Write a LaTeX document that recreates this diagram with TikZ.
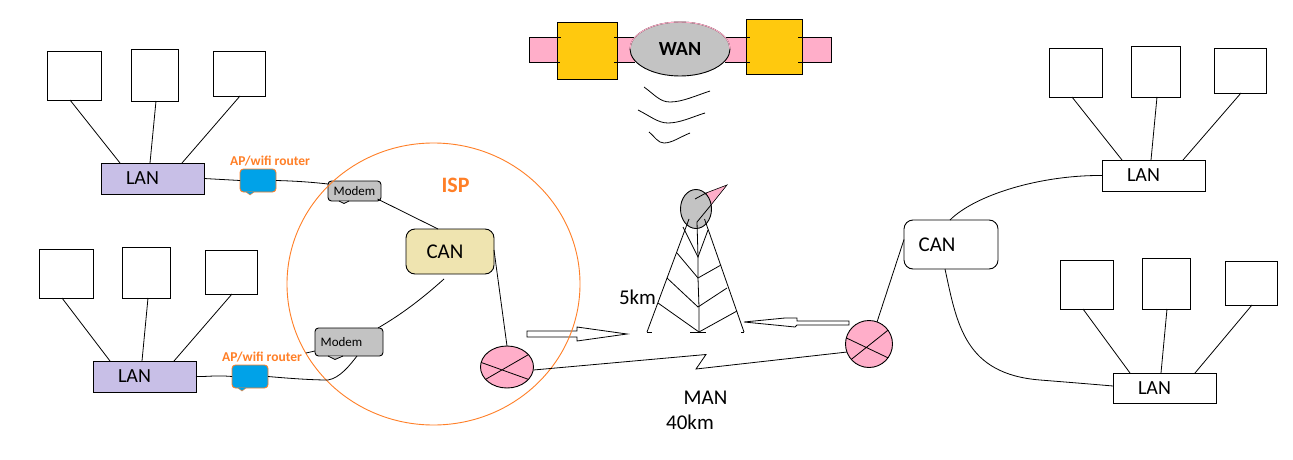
\documentclass[tikz,border=0pt]{standalone}
\usepackage{fontspec}
\setmainfont{Carlito}
\usetikzlibrary{shapes.geometric,calc}
\definecolor{lav}{HTML}{C8BFE7}
\definecolor{pinkf}{HTML}{FFAEC9}
\definecolor{yel}{HTML}{FFC90E}
\definecolor{gry}{HTML}{C3C3C3}
\definecolor{sand}{HTML}{EFE4B0}
\definecolor{orng}{HTML}{FF7F27}
\definecolor{sky}{HTML}{00A2E8}
\tikzset{
  base/.style={draw=black,line width=0.9pt,inner sep=0pt,outer sep=0pt,font=\fontsize{20}{20}\selectfont},
  plain/.style={base,fill=white},
  lanlav/.style={base,fill=lav},
  lanwhite/.style={base,fill=white},
  canbox/.style={base,rounded corners=9pt,font=\fontsize{21}{21}\selectfont},
  bubble/.style={base,fill=gry,rounded corners=3.5pt,font=\fontsize{13}{13}\selectfont},
  apbubble/.style={base,draw=orng,fill=sky,rounded corners=3.5pt},
  wire/.style={line width=0.8pt,black},
  aplabel/.style={inner sep=0pt,text=orng,font=\bfseries\fontsize{13.5}{13.5}\selectfont},
  lbl/.style={inner sep=0pt,font=\fontsize{21}{21}\selectfont},
  routerf/.style={base,ellipse,fill=pinkf},
}
% style, name, x1, y1, x2, y2, text
\newcommand{\bx}[7]{\node[#1,minimum width={(#5-#3)*1pt},minimum height={(#6-#4)*1pt}] (#2) at ({(#3+#5)/2},{(#4+#6)/2}) {#7};}
\newcommand{\lanshift}{\hspace*{-20pt}}
\begin{document}
\begin{tikzpicture}[x=1pt,y=-1pt]
\useasboundingbox (0,0) rectangle (1293,460);
\fill[white] (0,0) rectangle (1293,460);
% left groups
\bx{plain}{a1}{47}{51}{101}{100}{}
\bx{plain}{a2}{131}{49}{178}{101}{}
\bx{plain}{a3}{213}{51}{265}{96}{}
\bx{lanlav}{lanA}{101}{163}{204}{194}{\lanshift LAN}
\draw[wire] ([xshift=-4pt]a1.south) -- ([xshift=-32.5pt]lanA.north);
\draw[wire] ([xshift=1.5pt]a2.south) -- ([xshift=-2.5pt]lanA.north);
\draw[wire] ([xshift=1pt]a3.south) -- ([xshift=29.5pt]lanA.north);
\bx{plain}{b1}{39}{249}{93}{298}{}
\bx{plain}{b2}{122}{247}{170}{298}{}
\bx{plain}{b3}{205}{250}{257}{294}{}
\bx{lanlav}{lanB}{93}{361}{196}{392}{\lanshift LAN}
\draw[wire] ([xshift=-4pt]b1.south) -- ([xshift=-34.5pt]lanB.north);
\draw[wire] ([xshift=2pt]b2.south) -- ([xshift=-2.5pt]lanB.north);
\draw[wire] ([xshift=1pt]b3.south) -- ([xshift=29.5pt]lanB.north);
% right groups
\bx{plain}{c1}{1049}{48}{1102}{97}{}
\bx{plain}{c2}{1131}{46}{1180}{97}{}
\bx{plain}{c3}{1214}{48}{1266}{93}{}
\bx{lanwhite}{lanC}{1102}{160}{1205}{191}{\lanshift LAN}
\draw[wire] ([xshift=-3.5pt]c1.south) -- ([xshift=-31.5pt]lanC.north);
\draw[wire] ([xshift=1.5pt]c2.south) -- ([xshift=-2.5pt]lanC.north);
\draw[wire] ([xshift=1pt]c3.south) -- ([xshift=29.5pt]lanC.north);
\bx{plain}{d1}{1060}{260}{1113}{309}{}
\bx{plain}{d2}{1142}{258}{1190}{309}{}
\bx{plain}{d3}{1225}{261}{1277}{305}{}
\bx{lanwhite}{lanD}{1113}{373}{1216}{403}{\lanshift LAN}
\draw[wire] ([xshift=-3.5pt]d1.south) -- ([xshift=-34.5pt]lanD.north);
\draw[wire] ([xshift=1pt]d2.south) -- ([xshift=-3.5pt]lanD.north);
\draw[wire] ([xshift=1pt]d3.south) -- ([xshift=30.5pt]lanD.north);
% right CAN
\bx{canbox,fill=white}{canR}{904}{220}{998}{269}{\hspace*{-28pt}CAN}
\draw[wire] ([xshift=-1pt]canR.north) .. controls (975,195) and (1040,175) .. (lanC.west);
\draw[wire] ([xshift=-6pt]canR.south) .. controls (957,325) and (965,374) .. (1040,380) .. controls (1065,382) and (1090,384) .. ([yshift=2pt]lanD.west);
% routers
\node[routerf,minimum width=47pt,minimum height=47pt] (rtR) at (869,344) {};
\draw[wire] (rtR.165) -- (rtR.-36) (rtR.-139) -- (rtR.36);
\node[routerf,minimum width=53pt,minimum height=42pt] (rtL) at (507,367) {};
\draw[wire] (rtL.170) -- (rtL.-30) (rtL.-150) -- (rtL.30);
\draw[wire] (canR.west) ++(0,-5) -- (rtR.70);
% block arrows
\coordinate (arrA) at (527,331);
\coordinate (arrB) at (849,321);
\draw[wire,fill=white] (arrA) -- (577,331) -- (577,327) -- (627,334) -- (577,341) -- (577,337) -- (527,337) -- cycle;
\draw[wire,fill=white] (arrB) -- (797,321) -- (797,318) -- (785,318) -- (744,322) -- (785,326) -- (795,327) -- (797,325) -- (849,325) -- cycle;
% modem A lies under the ISP circle
\bx{bubble}{modA}{328}{181}{381}{201}{Modem}
\draw[wire,fill=gry] (339,201) -- (344,203.5) -- (349,201);
% ISP circle
\node[draw=orng,line width=0.9pt,ellipse,minimum width=293pt,minimum height=282pt,inner sep=0pt] (isp) at (433.5,284) {};
\node[inner sep=0pt,text=orng,font=\bfseries\fontsize{22}{22}\selectfont] (ispt) at (455.5,185) {ISP};
% bubbles
\bx{bubble}{modB}{315}{328}{383}{356}{\hspace*{-15pt}Modem}
\draw[wire,fill=gry] (328,356) -- (335,359.5) -- (343,356);
\bx{apbubble}{apA}{240}{169}{276}{192}{}
\filldraw[orng,fill=sky] (246,192) -- (250,195) -- (254,192);
\bx{apbubble}{apB}{232}{365}{268}{388}{}
\filldraw[orng,fill=sky] (238,388) -- (242,391) -- (246,388);
\node[aplabel] (apAt) at (270,161) {AP/wifi router};
\node[aplabel] (apBt) at (262,357) {AP/wifi router};
% CAN left
\bx{canbox,fill=sand}{canL}{406}{229}{494}{274}{\hspace*{-10pt}CAN}
% wires left
\draw[wire] (lanA.east) -- (apA.west);
\draw[wire] (apA.east) .. controls (295,181) and (310,182) .. ([yshift=7pt]modA.west);
\draw[wire] ([xshift=23pt,yshift=-8pt]modA.center) -- ([xshift=-12pt]canL.north);
\draw[wire] ([xshift=-6pt]canL.south) ++(0,5) .. controls (415,305) and (395,318) .. ([xshift=-5pt]modB.north east);
\draw[wire] (lanB.east) .. controls (205,377) and (215,375) .. (apB.west);
\draw[wire] (apB.east) .. controls (285,378) and (310,380) .. (328,380) .. controls (340,378) and (350,365) .. ([xshift=8pt]modB.south);
\coordinate (modTick) at (306,353);
\draw[wire] (modTick) -- ([yshift=-9pt]modB.west);
\draw[wire] ([yshift=1.5pt]canL.east) -- (rtL.north);
% MAN link
\coordinate (manA) at (706,354.5);
\coordinate (manB) at (696,369);
\draw[wire] (rtL.east) ++(0,3) -- (manA) -- (manB) -- (rtR.-160);
% WAN
\fill[pinkf] (529,37) rectangle (831,62);
\coordinate (wl) at (529,37);
\draw[wire] (557,37) -- (529,37) -- (529,62) -- (557,62);
\draw[wire] (617,37) -- (635,37) (617,62) -- (635,62);
\draw[wire] (725,37) -- (746,37) (725,62) -- (746,62);
\draw[wire] (802,37) -- (831,37) -- (831,62) -- (802,62);
\bx{base,fill=yel}{yA}{557}{22}{617}{79}{}
\bx{base,fill=yel}{yB}{746}{19}{802}{74}{}
\draw[wire] (557,37) -- (561,37) (557,62) -- (560,62) (614,37) -- (617,37) (614,62) -- (617,62);
\draw[wire] (746,37) -- (750,37) (746,62) -- (750,62) (798,37) -- (802,37) (798,62) -- (802,62);
\node[base,ellipse,fill=gry,minimum width=100pt,minimum height=54pt,font=\bfseries\fontsize{20}{20}\selectfont] (wan) at (680,49) {WAN};
\draw[pinkf,line width=1pt] (630,49) arc[start angle=180,end angle=360,x radius=50,y radius=27];
% waves
\draw[wire] (644,87) .. controls (655,95) and (660,102) .. (670,102) .. controls (682,102) and (695,96) .. (710,91);
\draw[wire] (638,110) .. controls (650,116) and (658,123) .. (668,123) .. controls (680,123) and (692,117) .. (705,113);
\draw[wire] (649,132) .. controls (655,137) and (658,143) .. (664,143) .. controls (672,143) and (680,137) .. (690,133);
% tower
\filldraw[wire,line width=0.6pt,fill=pinkf] (706,193) -- (727,185) -- (711,205) -- cycle;
\node[base,ellipse,fill=gry,minimum width=31pt,minimum height=39pt] (ant) at (696,209) {};
\draw[wire] (695,199) -- (706,193) (711,205) -- (697,222);
\coordinate (legL) at (647,332);
\coordinate (legC) at (699,332);
\coordinate (legR) at (744,332);
\draw[wire] ([xshift=-7pt,yshift=-10pt]ant.center) -- (legL) ([xshift=8.5pt,yshift=-10pt]ant.center) -- (legR);
\draw[wire] (697,222) -- (698,257) -- (698,278) -- (699,307) -- (legC);
\draw[wire] (647,332) -- (652,332) (690,332) -- (706,332) (741,332) -- (legR);
\draw[wire] (683,227) -- (698,257) -- (708,230);
\draw[wire] (677,253) -- (698,278) -- (721,265);
\draw[wire] (667,278) -- (698,307) -- (727,288);
\draw[wire] (658,303) -- (legC) -- (737,311);
% labels
\node[lbl] (km5) at (637.5,297) {5km};
\node[lbl] (man) at (705.5,398) {MAN};
\node[lbl] (km40) at (690,422) {40km};
\end{tikzpicture}
\end{document}
